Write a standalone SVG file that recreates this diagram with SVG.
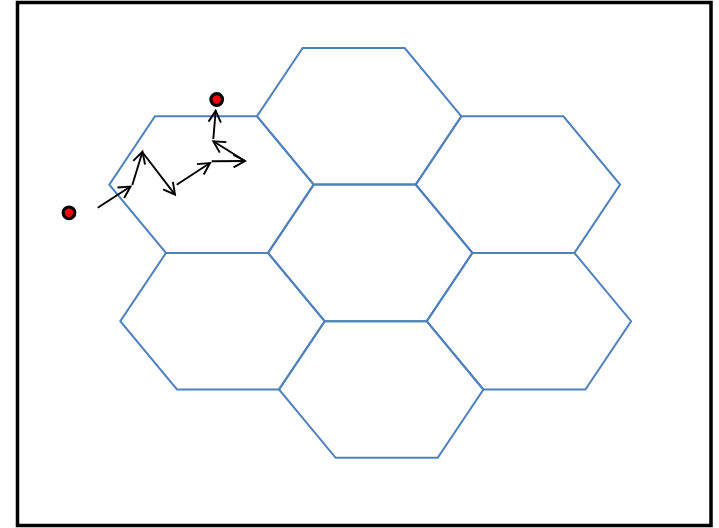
<svg xmlns="http://www.w3.org/2000/svg" width="719" height="528" viewBox="0 0 719 528">
  <defs>
    <style>
      .frame { fill: #ffffff; stroke: #000000; stroke-width: 3.5; }
      .hex { fill: none; stroke: #4f81bd; stroke-width: 2; stroke-linejoin: miter; }
      .arrow { fill: none; stroke: #000000; stroke-width: 1.9; marker-end: url(#head); }
      .dot { fill: #ff0000; stroke: #000000; stroke-width: 3.2; }
    </style>
    <marker id="head" markerUnits="userSpaceOnUse" viewBox="-14 -9 17 18" refX="0" refY="0" markerWidth="17" markerHeight="18" orient="auto">
      <path d="M-11.5,-6.2 L0,0 L-11.5,6.2" fill="none" stroke="#000000" stroke-width="1.9"/>
    </marker>
  </defs>
  <rect class="frame" x="17.5" y="2.5" width="693.5" height="523"/>
  <g id="hex-top"><polygon class="hex" points="302.7,48 404.7,48 461.4,116.3 415.7,184.6 313.7,184.6 257,116.3"/></g>
  <g id="hex-upper-left"><polygon class="hex" points="155,116.3 257,116.3 313.7,184.6 268,252.9 166,252.9 109.3,184.6"/></g>
  <g id="hex-upper-right"><polygon class="hex" points="461.4,116.3 563.4,116.3 620.1,184.6 574.4,252.9 472.4,252.9 415.7,184.6"/></g>
  <g id="hex-center"><polygon class="hex" points="313.7,184.6 415.7,184.6 472.4,252.9 426.7,321.2 324.7,321.2 268,252.9"/></g>
  <g id="hex-lower-left"><polygon class="hex" points="166,252.9 268,252.9 324.7,321.2 279,389.5 177,389.5 120.3,321.2"/></g>
  <g id="hex-lower-right"><polygon class="hex" points="472.4,252.9 574.4,252.9 631.1,321.2 585.4,389.5 483.4,389.5 426.7,321.2"/></g>
  <g id="hex-bottom"><polygon class="hex" points="324.7,321.2 426.7,321.2 483.4,389.5 437.7,457.8 335.7,457.8 279,389.5"/></g>
  <g id="connectors">
    <line class="arrow" x1="97.7" y1="207.7" x2="130.5" y2="186.5"/>
    <line class="arrow" x1="132.3" y1="185" x2="142.5" y2="151.7"/>
    <line class="arrow" x1="143" y1="153" x2="175" y2="194.7"/>
    <line class="arrow" x1="176.7" y1="184.7" x2="210" y2="163"/>
    <line class="arrow" x1="211.7" y1="161.3" x2="245" y2="161"/>
    <line class="arrow" x1="245" y1="161" x2="213.3" y2="141.3"/>
    <line class="arrow" x1="213.3" y1="139" x2="215.7" y2="110.7"/>
  </g>
  <g id="start-point"><circle class="dot" cx="69" cy="212.8" r="5.8"/></g>
  <g id="end-point"><circle class="dot" cx="216.7" cy="99.5" r="5.8"/></g>
</svg>
